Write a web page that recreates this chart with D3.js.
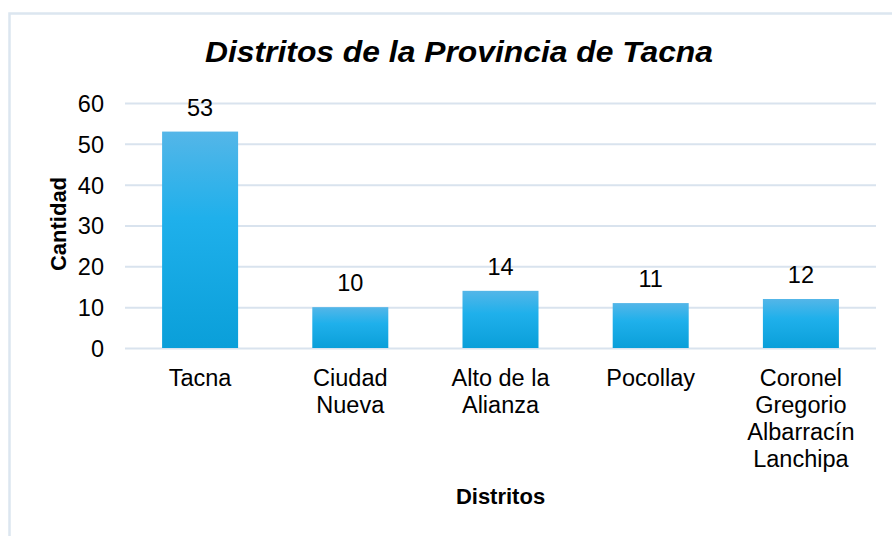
<!DOCTYPE html>
<html>
<head>
<meta charset="utf-8">
<script src="https://cdn.jsdelivr.net/npm/d3@7/dist/d3.min.js"></script>
<style>
html,body{margin:0;padding:0;background:#fff;overflow:hidden;}
svg{display:block;font-family:"Liberation Sans",Arial,sans-serif;}
</style>
</head>
<body>
<svg id="chart" width="892" height="536"></svg>
<script>
const title = "Distritos de la Provincia de Tacna";
const categories = [
  ["Tacna"],
  ["Ciudad", "Nueva"],
  ["Alto de la", "Alianza"],
  ["Pocollay"],
  ["Coronel", "Gregorio", "Albarracín", "Lanchipa"]
];
const values = [53, 10, 14, 11, 12];
const yTicks = [0, 10, 20, 30, 40, 50, 60];
const xTitle = "Distritos";
const yTitle = "Cantidad";

const svg = d3.select("#chart");
const W = 892, H = 536;
const plot = {left: 125, right: 876, top: 103, bottom: 348};

// frame
svg.append("rect")
  .attr("x", 9.5).attr("y", 13.5)
  .attr("width", W + 20).attr("height", H + 20)
  .attr("fill", "#fff").attr("stroke", "#DCE6F0").attr("stroke-width", 2.5);

// gradient
const defs = svg.append("defs");
const grad = defs.append("linearGradient").attr("id", "barGrad")
  .attr("x1", 0).attr("y1", 0).attr("x2", 0).attr("y2", 1);
grad.append("stop").attr("offset", "0%").attr("stop-color", "#54B6E8");
grad.append("stop").attr("offset", "40%").attr("stop-color", "#1FB0EB");
grad.append("stop").attr("offset", "100%").attr("stop-color", "#0A9FD9");

const idx = categories.map((d, i) => i);
const x = d3.scaleBand().domain(idx).range([plot.left, plot.right]).paddingInner(0.494).paddingOuter(0.247);
const y = d3.scaleLinear().domain([0, 60]).range([plot.bottom, plot.top]);

// gridlines + y labels via axis
const yAxis = d3.axisLeft(y).tickValues(yTicks).tickSize(-(plot.right - plot.left)).tickPadding(21);
const gy = svg.append("g").attr("transform", `translate(${plot.left},0)`).call(yAxis);
gy.select(".domain").remove();
gy.selectAll(".tick line").attr("stroke", "#D9E3EE").attr("stroke-width", 2);
gy.selectAll(".tick text").attr("font-size", 23.5).attr("fill", "#000")
  .attr("font-family", "Liberation Sans, Arial, sans-serif").attr("dy", "0.36em");

// bars
svg.append("g").selectAll("rect").data(values).join("rect")
  .attr("x", (d, i) => x(i))
  .attr("width", x.bandwidth())
  .attr("y", d => y(d))
  .attr("height", d => y(0) - y(d))
  .attr("fill", "url(#barGrad)");

// value labels
svg.append("g").selectAll("text").data(values).join("text")
  .attr("x", (d, i) => x(i) + x.bandwidth() / 2)
  .attr("y", d => y(d) - 16)
  .attr("text-anchor", "middle")
  .attr("font-size", 23.5).attr("fill", "#000")
  .text(d => d);

// category labels
const gx = svg.append("g");
categories.forEach((lines, i) => {
  const t = gx.append("text")
    .attr("x", x(i) + x.bandwidth() / 2)
    .attr("y", 386)
    .attr("text-anchor", "middle")
    .attr("font-size", 23.5).attr("fill", "#000");
  lines.forEach((ln, j) => {
    t.append("tspan").attr("x", x(i) + x.bandwidth() / 2)
      .attr("dy", j === 0 ? 0 : 27).text(ln);
  });
});

// title
svg.append("text")
  .attr("x", 459).attr("y", 62)
  .attr("text-anchor", "middle")
  .attr("font-size", 30).attr("font-weight", "bold").attr("font-style", "italic")
  .attr("textLength", 508).attr("lengthAdjust", "spacingAndGlyphs")
  .text(title);

// axis titles
svg.append("text")
  .attr("x", (plot.left + plot.right) / 2).attr("y", 504)
  .attr("text-anchor", "middle")
  .attr("font-size", 22).attr("font-weight", "bold")
  .text(xTitle);

svg.append("text")
  .attr("transform", "translate(66,224) rotate(-90)")
  .attr("text-anchor", "middle")
  .attr("font-size", 22).attr("font-weight", "bold")
  .text(yTitle);
</script>
</body>
</html>
